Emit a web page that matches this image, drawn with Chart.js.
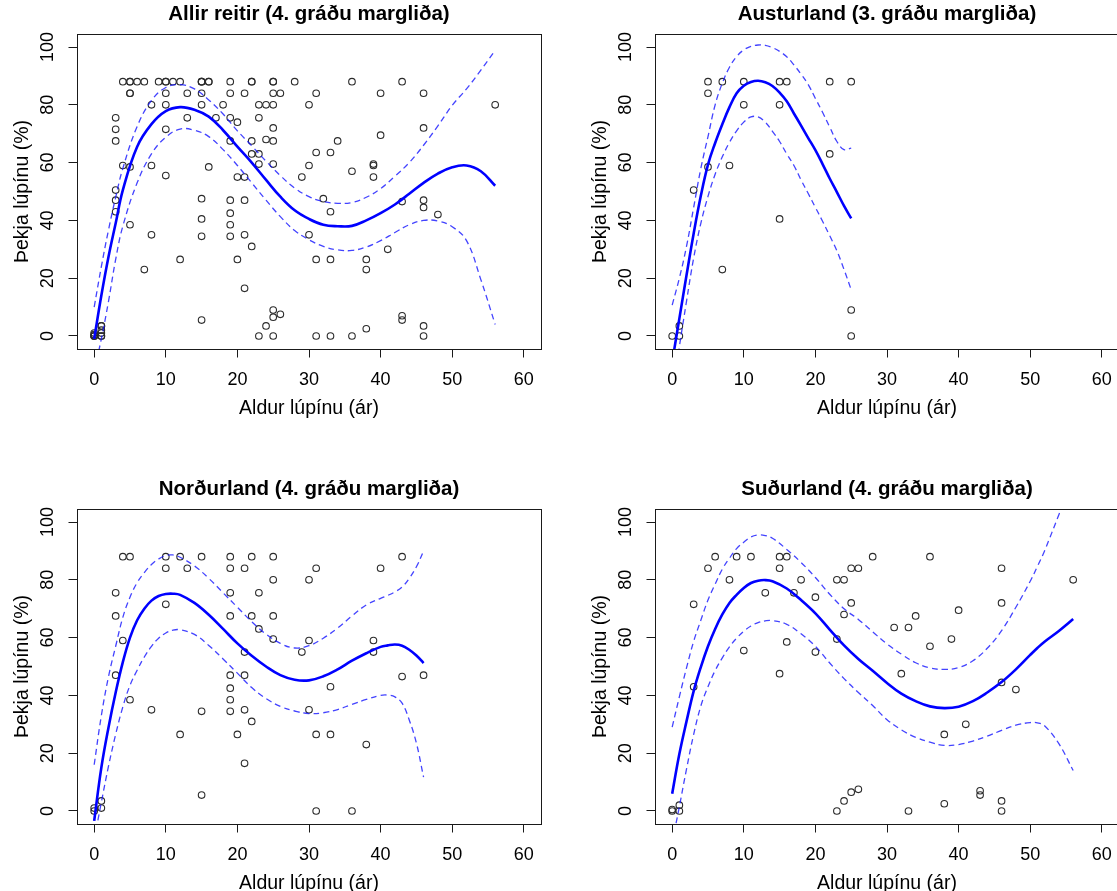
<!DOCTYPE html>
<html>
<head>
<meta charset="utf-8">
<script src="https://cdn.jsdelivr.net/npm/chart.js@4.4.0/dist/chart.umd.min.js"></script>
<style>
  body { margin: 0; background: #fff; width: 1117px; height: 891px; overflow: hidden; position: relative; }
  .panel { position: absolute; width: 560px; height: 440px; }
</style>
</head>
<body>
<div class="panel" style="left:0;top:0"><canvas id="allir" width="560" height="440"></canvas></div>
<div class="panel" style="left:578px;top:0"><canvas id="austur" width="560" height="440"></canvas></div>
<div class="panel" style="left:0;top:475px"><canvas id="nordur" width="560" height="440"></canvas></div>
<div class="panel" style="left:578px;top:475px"><canvas id="sudur" width="560" height="440"></canvas></div>

<script>
// Axis ticks (shared by all four panels)
const xTicks = [0, 10, 20, 30, 40, 50, 60];
const yTicks = [0, 20, 40, 60, 80, 100];

// Austurland: plots (age of lupin, cover %)
const austurAge = [0, 1, 1, 3, 5, 5, 5, 7, 7, 8, 10, 10, 15, 15, 15, 16, 22, 22, 25, 25, 25];
const austurCover = [0, 0, 3.5, 50.5, 88, 84, 58.5, 88, 23, 59, 88, 80, 88, 80, 40.5, 88, 88, 63, 88, 9, 0];

// Norðurland
const nordurAge = [0, 0, 1, 1, 3, 3, 3, 4, 4, 5, 5, 8, 10, 10, 10, 12, 12, 13, 15, 15, 15,
  19, 19, 19, 19, 19, 19, 19, 19, 20, 21, 21, 21, 21, 21, 22, 22, 22, 23, 23, 25, 25, 25, 25,
  29, 30, 30, 30, 31, 31, 31, 33, 33, 36, 38, 39, 39, 40, 43, 43, 46];
const nordurCover = [0, 1, 1, 3.5, 75.5, 67.5, 47, 88, 59, 88, 38.5, 35, 88, 84, 71.5, 88, 26.5, 84, 88, 34.5, 5.5,
  88, 84, 75.5, 67.5, 47, 42.5, 38.5, 34.5, 26.5, 84, 55, 47, 35, 16.5, 88, 67.5, 31, 75.5, 63, 88, 80, 67.5, 59.5,
  55, 80, 59, 35, 84, 26.5, 0, 43, 26.5, 0, 23, 59, 55, 84, 88, 46.5, 47];

// Suðurland
const sudurAge = [0, 0, 1, 1, 3, 3, 5, 6, 8, 9, 10, 11, 13, 15, 15, 15, 16, 16, 17, 18, 20, 20,
  23, 23, 23, 24, 24, 24, 25, 25, 25, 26, 26, 28, 31, 32, 33, 33, 34, 36, 36, 38, 38, 39, 40, 41,
  43, 43, 46, 46, 46, 46, 46, 48, 56];
const sudurCover = [0, 0.5, 2, 0, 71.5, 43, 84, 88, 80, 88, 55.5, 88, 75.5, 88, 84, 47.5, 88, 58.5, 75.5, 80, 74, 55,
  80, 59.5, 0, 80, 68, 3.5, 84, 72, 6.5, 84, 7.5, 88, 63.5, 47.5, 63.5, 0, 67.5, 88, 57, 26.5, 2.5, 59.5, 69.5, 30,
  7, 5.5, 84, 72, 44.5, 3.5, 0, 42, 80];

// Fitted polynomial curves and their confidence bands
const allirCurveAge = [0, 1, 2, 3, 4, 6, 8, 10, 12, 14, 16, 18, 20, 22, 24, 26, 28, 30, 32, 34, 36, 38, 40, 42, 44, 46, 48, 50, 52, 54, 56];
const allirFit = [-1, 14, 27.4, 39, 50.5, 65.5, 73.3, 77.8, 79.2, 78.3, 75.9, 71.2, 65.5, 60, 54, 48.2, 43.5, 40.5, 38.5, 38, 38.1, 40, 42.5, 45.5, 49.2, 53, 56.2, 58.4, 59, 57, 52];
const allirUpper = [10, 24, 36.7, 48, 58, 72.5, 81.5, 86, 87, 85.5, 81.7, 76.8, 71, 65.8, 60.5, 55.5, 51.2, 48.2, 46.5, 45.9, 46.2, 48, 51, 55.3, 60, 66, 72.7, 79.8, 85.5, 92, 98.8];
const allirLower = [-12, -1, 12, 26.5, 38, 53, 63, 68.8, 71.6, 71.2, 69, 64.5, 59, 53, 47, 41.3, 36.5, 33.3, 31, 29.8, 29.6, 30.8, 33, 35.8, 38.5, 40, 39.8, 37.8, 33, 19.5, 4];

const austurCurveAge = [0, 1, 2, 3, 4, 5, 6, 7, 8, 9, 10, 11, 12, 13, 14, 15, 16, 17, 18, 19, 20, 21, 22, 23, 24, 25];
const austurFit = [-9, 6, 21, 35.5, 48.5, 59.3, 66.8, 73.3, 79.2, 84, 86.6, 87.9, 88.3, 87.8, 86.5, 84.2, 81.2, 77, 72.8, 68.5, 64.3, 59.5, 54.5, 49.8, 45, 40.7];
const austurUpper = [10.7, 20, 31, 44.5, 58, 69, 80, 87.5, 93, 96.7, 99, 100.2, 100.7, 100.6, 99.8, 98.5, 96.6, 93.8, 90.6, 87, 82.2, 77.4, 72.3, 67.3, 64.5, 65];
const austurLower = [-20, -3.7, 12, 27, 39, 48.3, 56, 62, 67, 71, 74, 75.8, 75.8, 74, 70.8, 67.3, 63, 59, 54, 49.3, 44.5, 39.7, 34.7, 29.5, 23, 16];

const nordurCurveAge = [0, 1, 2, 3, 4, 5, 6, 7, 8, 9, 10, 11, 12, 14, 16, 18, 20, 22, 24, 26, 28, 30, 32, 34, 36, 38, 40, 41, 42, 43, 44, 45, 46];
const nordurFit = [-3.4, 15, 28.9, 41, 51.5, 60, 66, 70, 72.8, 74.4, 75.1, 75.2, 74.8, 72, 67.9, 63, 58, 53.7, 50, 47, 45.4, 45.2, 46.6, 49, 52, 54.6, 56.8, 57.3, 57.6, 57.2, 55.8, 53.8, 51.2];
const nordurUpper = [16, 33, 46.5, 57, 67, 74, 79, 82.5, 85.3, 87.2, 88.4, 88.6, 87.8, 84.8, 80.5, 75.5, 70.5, 65.5, 61.2, 58, 56.4, 57.2, 59.8, 63.3, 67.5, 71.3, 73.6, 74.6, 75.8, 77.5, 80.5, 84.5, 89.9];
const nordurLower = [-10, 3, 15.5, 26.5, 36, 43.5, 48.7, 53.3, 57, 59.8, 61.6, 62.6, 62.7, 61.1, 57.3, 52.6, 47.7, 42.7, 38.9, 36.2, 34.6, 33.7, 34, 35.1, 36.9, 38.6, 40, 40.1, 39.5, 37.3, 31.5, 23.5, 11.7];

const sudurCurveAge = [0, 1, 2, 3, 4, 5, 6, 7, 8, 9, 10, 11, 12, 13, 14, 16, 18, 20, 22, 24, 26, 28, 30, 32, 34, 36, 38, 40, 42, 44, 46, 48, 50, 51, 52, 54, 56];
const sudurFit = [6, 19.7, 31, 41.5, 49.8, 57, 63, 68, 72, 74.8, 77.2, 78.9, 79.7, 79.9, 79.5, 77, 73, 68.4, 62.8, 57.3, 52.6, 48.5, 44.3, 40.6, 38, 36.2, 35.6, 36.1, 38, 41, 44.6, 49, 54, 56.4, 58.6, 62.3, 66.4];
const sudurUpper = [29, 39.5, 49.5, 58.7, 66, 73, 78.5, 83.7, 87.5, 90.8, 93, 94.8, 95.5, 95.3, 94.4, 90.5, 86, 80.8, 75, 70, 66.3, 62, 57.8, 54.3, 51.3, 49.5, 49, 49.6, 52, 56.3, 62.4, 70.5, 79.5, 84.6, 90, 102.5, 115];
const sudurLower = [-11, 1.5, 14.5, 26.5, 36.3, 43, 48.6, 53, 56.8, 59.8, 62.2, 64, 65.2, 65.8, 65.9, 64.6, 61.3, 57, 51.2, 45.8, 41, 36.5, 31.6, 28.1, 25.5, 23.8, 22.7, 23, 24.2, 25.9, 27.9, 29.7, 30.6, 30.5, 29.5, 23.3, 14];

// "Allir reitir" is simply every plot from the three regions together
const allirAge = austurAge.concat(nordurAge, sudurAge);
const allirCover = austurCover.concat(nordurCover, sudurCover);

const FONT = "'Liberation Sans', Arial, sans-serif";
Chart.defaults.font.family = FONT;
Chart.defaults.color = '#000';

// draws the closed frame around the plot region (like R's box())
const plotBox = {
    id: 'plotBox',
    afterDraw(chart) {
        const { ctx, chartArea: a } = chart;
        ctx.save();
        ctx.strokeStyle = '#1a1a1a';
        ctx.lineWidth = 1;
        ctx.strokeRect(Math.round(a.left) + 0.5, Math.round(a.top) + 0.5,
            Math.round(a.right - a.left), Math.round(a.bottom - a.top));
        ctx.restore();
    }
};

const toXY = (xs, ys) => xs.map((x, i) => ({ x: x, y: ys[i] }));

function drawPanel(id, title, age, cover, curveAge, fit, upper, lower) {
    const bandStyle = {
        type: 'line',
        borderColor: 'rgba(20, 20, 255, 0.8)',
        borderWidth: 1.3,
        borderDash: [6, 4],
        pointRadius: 0,
        fill: false,
        tension: 0.4
    };

    new Chart(document.getElementById(id), {
        type: 'scatter',
        data: {
            datasets: [
                {
                    type: 'line',
                    data: toXY(curveAge, fit),
                    borderColor: '#0000ff',
                    borderWidth: 2.6,
                    pointRadius: 0,
                    fill: false,
                    tension: 0.4
                },
                Object.assign({ data: toXY(curveAge, upper) }, bandStyle),
                Object.assign({ data: toXY(curveAge, lower) }, bandStyle),
                {
                    data: toXY(age, cover),
                    pointStyle: 'circle',
                    pointRadius: 3.3,
                    borderWidth: 1.1,
                    borderColor: '#2b2b2b',
                    backgroundColor: 'rgba(0,0,0,0)'
                }
            ]
        },
        options: {
            responsive: false,
            animation: false,
            devicePixelRatio: 1,
            layout: { padding: { left: 0, top: 0, right: 19, bottom: 20 } },
            plugins: {
                legend: { display: false },
                tooltip: { enabled: false },
                title: {
                    display: true,
                    text: title,
                    fullSize: false,
                    color: '#000',
                    font: { size: 20.5, weight: 'bold', family: FONT },
                    padding: { top: 2, bottom: 7.4 }
                }
            },
            scales: {
                x: {
                    type: 'linear',
                    min: -2.4,
                    max: 62.4,
                    afterBuildTicks: s => { s.ticks = xTicks.map(v => ({ value: v })); },
                    afterFit: s => { s.height = 71; },
                    ticks: { font: { size: 18 }, color: '#000', padding: 11.4, autoSkip: false, maxRotation: 0 },
                    grid: { drawOnChartArea: false, drawTicks: true, tickLength: 8.5, color: '#1a1a1a' },
                    border: { display: false },
                    title: {
                        display: true,
                        text: 'Aldur lúpínu (ár)',
                        color: '#000',
                        font: { size: 19.5 },
                        padding: { top: 0, bottom: 0 }
                    }
                },
                y: {
                    type: 'linear',
                    min: -4.5,
                    max: 104.5,
                    afterBuildTicks: s => { s.ticks = yTicks.map(v => ({ value: v })); },
                    afterFit: s => { s.width = 77; },
                    ticks: {
                        font: { size: 18 }, color: '#000', padding: 5.6, autoSkip: false,
                        minRotation: 90, maxRotation: 90, crossAlign: 'center'
                    },
                    grid: { drawOnChartArea: false, drawTicks: true, tickLength: 8.5, color: '#1a1a1a' },
                    border: { display: false },
                    title: {
                        display: true,
                        text: 'Þekja lúpínu (%)',
                        color: '#000',
                        font: { size: 19.5 },
                        padding: { top: 11.3, bottom: 0 }
                    }
                }
            }
        },
        plugins: [plotBox]
    });
}

drawPanel('allir', 'Allir reitir (4. gráðu margliða)', allirAge, allirCover, allirCurveAge, allirFit, allirUpper, allirLower);
drawPanel('austur', 'Austurland (3. gráðu margliða)', austurAge, austurCover, austurCurveAge, austurFit, austurUpper, austurLower);
drawPanel('nordur', 'Norðurland (4. gráðu margliða)', nordurAge, nordurCover, nordurCurveAge, nordurFit, nordurUpper, nordurLower);
drawPanel('sudur', 'Suðurland (4. gráðu margliða)', sudurAge, sudurCover, sudurCurveAge, sudurFit, sudurUpper, sudurLower);
</script>
</body>
</html>
